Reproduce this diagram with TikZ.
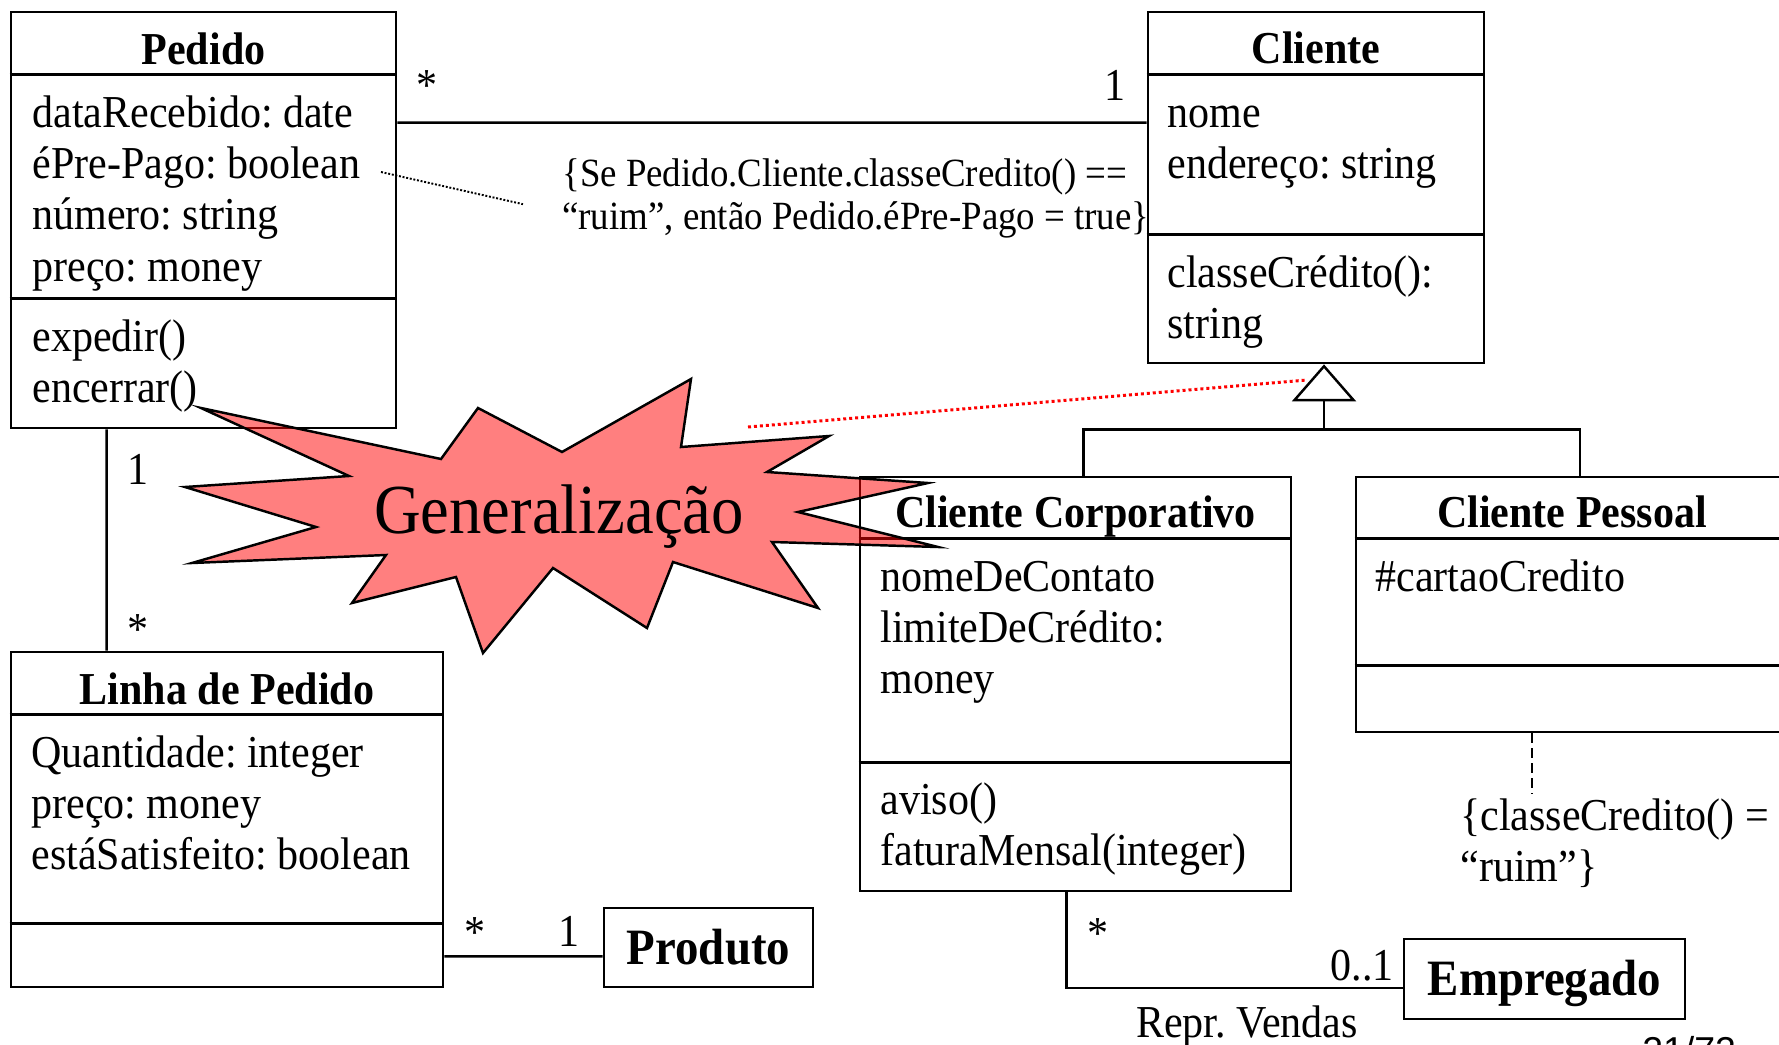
\documentclass[tikz,border=0pt]{standalone}
\usepackage{fontspec}
\setmainfont{Liberation Serif}[FakeStretch=0.92]
\newfontfamily\slidefont{Liberation Sans}
\usepackage{tikz}
\usetikzlibrary{arrows.meta,positioning,calc}
\frenchspacing
\newcommand{\rows}[1]{\begin{tabular}[t]{@{}l@{}}#1\end{tabular}}
\newcommand{\compsep}[2]{\draw[line width=1.6pt] ([yshift=-#2*0.02cm]#1.north west) -- ([yshift=-#2*0.02cm]#1.north east);}
\tikzstyle{classbox}=[draw,line width=1.6pt,inner sep=0pt]
\tikzstyle{boldbox}=[draw,line width=1.6pt,inner sep=0pt,font=\fontsize{29}{33}\selectfont\bfseries,text height=19.2pt,text depth=0pt]
\tikzstyle{ctitle}=[anchor=base,inner sep=0pt,font=\fontsize{26}{29.3}\selectfont\bfseries]
\tikzstyle{attr}=[anchor=base west,inner sep=0pt,font=\fontsize{26}{29.3}\selectfont]
\tikzstyle{mult}=[anchor=base,inner sep=0pt,font=\fontsize{26}{29.3}\selectfont]
\tikzstyle{assoc}=[line width=1.4pt]
\tikzstyle{notelink}=[line width=1.1pt,dash pattern=on 1.1pt off 1pt]
\tikzstyle{hint}=[draw=red,line width=1.7pt,dash pattern=on 1.7pt off 1.7pt]
\tikzstyle{burst}=[draw=black,fill=red,fill opacity=0.5,line width=1.4pt,line join=miter]

\begin{document}
\begin{tikzpicture}[x=0.02cm,y=-0.02cm]
\useasboundingbox (0,0) rectangle (1779,1045);

% classes
\node [classbox, minimum width=7.7cm, minimum height=8.32cm] (pedido) at (203.5,220) {};
\compsep{pedido}{64}
\compsep{pedido}{288}
\node [ctitle] (pedidoT) at (203.5,64) {Pedido};
\node [attr] (pedidoA) at (32,127) {\rows{dataRecebido: date\\ éPre-Pago: boolean\\ número: string\\ preço: money}};
\node [attr] (pedidoO) at (32,351) {\rows{expedir()\\ encerrar()}};

\node [classbox, minimum width=6.72cm, minimum height=7.02cm] (cliente) at (1316,187.5) {};
\compsep{cliente}{64}
\compsep{cliente}{224}
\node [ctitle] (clienteT) at (1316,63) {Cliente};
\node [attr] (clienteA) at (1167,127) {\rows{nome\\ endereço: string}};
\node [attr] (clienteO) at (1167,287) {\rows{classeCrédito():\\ string}};

\node [classbox, minimum width=8.64cm, minimum height=6.7cm] (linha) at (227,819.5) {};
\compsep{linha}{64}
\compsep{linha}{273}
\node [ctitle] (linhaT) at (227,704) {Linha de Pedido};
\node [attr] (linhaA) at (31,767) {\rows{Quantidade: integer\\ preço: money\\ estáSatisfeito: boolean}};

\node [classbox, minimum width=8.62cm, minimum height=8.28cm] (corp) at (1075.5,684) {};
\compsep{corp}{63}
\compsep{corp}{287}
\node [ctitle] (corpT) at (1075.5,527) {Cliente Corporativo};
\node [attr] (corpA) at (880,591) {\rows{nomeDeContato\\ limiteDeCrédito:\\ money}};
\node [attr] (corpO) at (880,814) {\rows{aviso()\\ faturaMensal(integer)}};

\node [classbox, minimum width=8.64cm, minimum height=5.1cm] (pessoal) at (1572,604.5) {};
\compsep{pessoal}{63}
\compsep{pessoal}{190}
\node [ctitle] (pessoalT) at (1572,527) {Cliente Pessoal};
\node [attr] (pessoalA) at (1375,591) {\#cartaoCredito};

\node [boldbox, minimum width=4.18cm, minimum height=1.58cm] (produto) at (708.5,947.5) {Produto};
\node [boldbox, minimum width=5.62cm, minimum height=1.6cm] (empregado) at (1544.5,979) {Empregado};

% constraints
\node [attr, font=\fontsize{22.8}{25}\selectfont] (note1) at (562,186) {\rows{\{Se Pedido.Cliente.classeCredito() ==\\ “ruim”, então Pedido.éPre-Pago = true\}}};
\node [attr] (note2) at (1460,830) {\rows{\{classeCredito() =\\ “ruim”\}}};
\coordinate (prepago) at (381,172);
\draw [notelink] (prepago) -- ([xshift=-0.78cm,yshift=-0.1cm]note1.west);
\draw [line width=1pt, dash pattern=on 5.5pt off 3pt] ([xshift=-0.8cm]pessoal.south) -- ([xshift=-0.8cm]pessoal.south |- note2.north);

% associations
\draw [assoc] ([yshift=-2.24cm]pedido.north east) -- ([yshift=-2.24cm]cliente.north west);
\node [mult] (m1) at (427,100) {*};
\node [mult] (m2) at (1115,100) {1};
\draw [assoc] ([xshift=1.94cm]pedido.south west) -- ([xshift=1.94cm]linha.north west);
\node [mult] (m3) at (138,484) {1};
\node [mult] (m4) at (138,644) {*};
\draw [assoc] ([yshift=0.64cm]linha.south east) -- ([yshift=0.64cm]produto.south west);
\node [mult] (m5) at (475,947) {*};
\node [mult] (m6) at (569,946) {1};
\draw [assoc] ([xshift=4.16cm]corp.south west) |- ([yshift=-0.18cm]empregado.west);
\node [mult] (m7) at (1098,948) {*};
\node [mult] (m8) at (1362,980) {0..1};
\node [mult] (repr) at (1247,1037) {Repr. Vendas};

% generalization
\coordinate (gj) at ([xshift=0.16cm,yshift=-1.3cm]cliente.south);
\draw [assoc, -{Triangle[open,length=0.74cm,width=1.28cm]}] (gj) -- ([xshift=0.16cm]cliente.south);
\draw [assoc] ([xshift=0.16cm]corp.north) |- (gj) -| ([xshift=0.16cm]pessoal.north);

% burst
\draw [burst] (201,408) -- (441,459) -- (478,408) -- (562,452) -- (691,379) -- (681,447)
  -- (829,436) -- (767,472) -- (928,483) -- (798,512) -- (938,547) -- (772,542)
  -- (818,608) -- (673,562) -- (647,628) -- (553,568) -- (483,653) -- (456,577)
  -- (352,603) -- (386,555) -- (192,563) -- (316,527) -- (185,487) -- (349,476) -- cycle;
\node [anchor=base, inner sep=0pt, font=\fontsize{40}{44}\selectfont] (gen) at (559,533) {Generalização};
\coordinate (hintA) at (748,427);
\coordinate (hintB) at (1307,380);
\draw [hint] (hintA) -- (hintB);

\node [anchor=base west, inner sep=0pt, font=\slidefont\fontsize{21.3}{25}\selectfont] (pagenum) at (1642,1063) {21/72};
\end{tikzpicture}
\end{document}
